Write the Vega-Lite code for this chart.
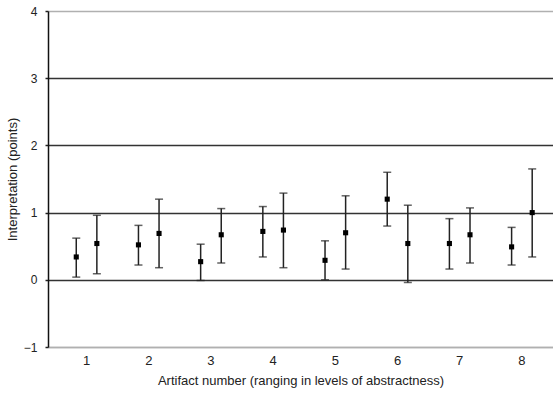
{
  "$schema": "https://vega.github.io/schema/vega-lite/v6.json",
  "width": 505,
  "height": 336,
  "autosize": {"type": "none"},
  "padding": {"left": 48, "top": 11, "right": 0, "bottom": 49},
  "background": "white",
  "config": {
    "view": {"stroke": null},
    "font": "Liberation Sans",
    "axis": {"labelFont": "Liberation Sans", "titleFont": "Liberation Sans", "titleFontWeight": "normal", "labelColor": "#222", "titleColor": "#222"}
  },
  "data": {
    "values": [
      {"artifact": 1, "group": "A", "mean": 0.34, "lo": 0.04, "hi": 0.62},
      {"artifact": 1, "group": "B", "mean": 0.54, "lo": 0.09, "hi": 0.96},
      {"artifact": 2, "group": "A", "mean": 0.52, "lo": 0.22, "hi": 0.81},
      {"artifact": 2, "group": "B", "mean": 0.69, "lo": 0.18, "hi": 1.20},
      {"artifact": 3, "group": "A", "mean": 0.27, "lo": -0.01, "hi": 0.53},
      {"artifact": 3, "group": "B", "mean": 0.67, "lo": 0.25, "hi": 1.06},
      {"artifact": 4, "group": "A", "mean": 0.72, "lo": 0.34, "hi": 1.09},
      {"artifact": 4, "group": "B", "mean": 0.74, "lo": 0.18, "hi": 1.29},
      {"artifact": 5, "group": "A", "mean": 0.29, "lo": 0.0, "hi": 0.58},
      {"artifact": 5, "group": "B", "mean": 0.70, "lo": 0.16, "hi": 1.25},
      {"artifact": 6, "group": "A", "mean": 1.20, "lo": 0.80, "hi": 1.60},
      {"artifact": 6, "group": "B", "mean": 0.54, "lo": -0.04, "hi": 1.11},
      {"artifact": 7, "group": "A", "mean": 0.54, "lo": 0.16, "hi": 0.91},
      {"artifact": 7, "group": "B", "mean": 0.67, "lo": 0.25, "hi": 1.07},
      {"artifact": 8, "group": "A", "mean": 0.49, "lo": 0.22, "hi": 0.78},
      {"artifact": 8, "group": "B", "mean": 1.00, "lo": 0.34, "hi": 1.65}
    ]
  },
  "encoding": {
    "x": {
      "field": "artifact", "type": "ordinal",
      "scale": {"paddingInner": 0, "paddingOuter": 0.06, "align": 1},
      "axis": {
        "title": "Artifact number (ranging in levels of abstractness)",
        "titleFontSize": 13, "titlePadding": 7,
        "labelFontSize": 13, "labelAngle": 0, "labelPadding": 7,
        "ticks": false, "domainColor": "#b0b0b0", "domainWidth": 1.5
      }
    },
    "xOffset": {"field": "group", "type": "nominal", "scale": {"paddingInner": 0, "paddingOuter": 0.51}}
  },
  "layer": [
    {
      "mark": {"type": "rule", "color": "#222", "strokeWidth": 1.5},
      "encoding": {
        "y": {
          "field": "lo", "type": "quantitative",
          "scale": {"domain": [-1, 4], "nice": false, "zero": false},
          "axis": {
            "title": "Interpretation (points)",
            "titleFontSize": 13, "titlePadding": 4,
            "values": [-1, 0, 1, 2, 3, 4], "format": "d",
            "labelFontSize": 12, "labelPadding": 8,
            "tickSize": 3, "tickColor": "#222", "tickWidth": 1.5,
            "domainColor": "#111", "domainWidth": 1.5,
            "grid": true, "gridWidth": 1.5,
            "gridColor": {"condition": {"test": "datum.value == 4 || datum.value == -1", "value": "#b0b0b0"}, "value": "#333"}
          }
        },
        "y2": {"field": "hi"}
      }
    },
    {
      "mark": {"type": "tick", "color": "#222", "thickness": 1.5, "size": 8},
      "encoding": {"y": {"field": "lo", "type": "quantitative"}}
    },
    {
      "mark": {"type": "tick", "color": "#222", "thickness": 1.5, "size": 8},
      "encoding": {"y": {"field": "hi", "type": "quantitative"}}
    },
    {
      "mark": {"type": "point", "shape": "square", "filled": true, "color": "#000", "size": 26, "opacity": 1},
      "encoding": {"y": {"field": "mean", "type": "quantitative"}}
    }
  ]
}
